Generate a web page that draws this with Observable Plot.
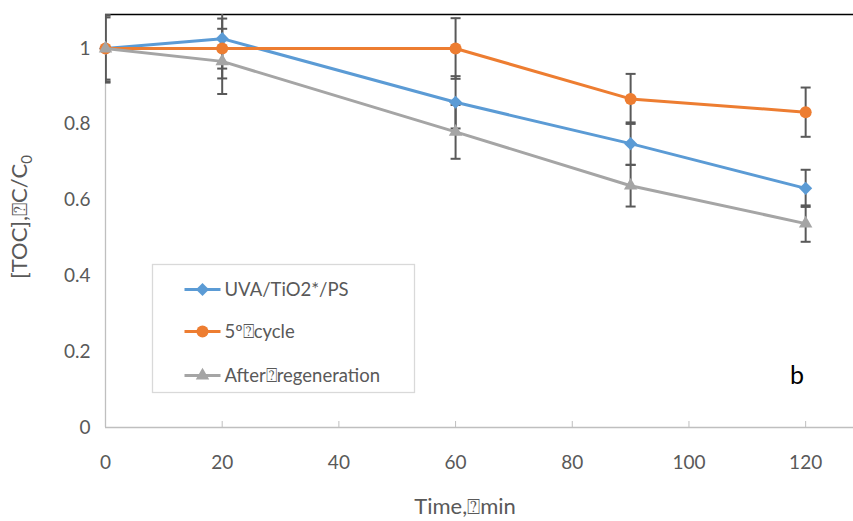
<!DOCTYPE html>
<html>
<head>
<meta charset="utf-8">
<script src="https://cdn.jsdelivr.net/npm/d3@7"></script>
<script src="https://cdn.jsdelivr.net/npm/@observablehq/plot@0.6"></script>
<style>
  body { margin: 0; background: #fff; }
  #chart { width: 853px; height: 521px; }
</style>
</head>
<body>
<div id="chart"></div>
<script>
// Sampling times (min)
const times = [0, 20, 60, 90, 120];

// Series names as shown in the legend
const seriesNames = ["UVA/TiO2*/PS", "5º\u2370cycle", "After\u2370regeneration"];

// Normalised TOC, [TOC]/C0, per series
const uvaTiO2 = [1.0, 1.026, 0.858, 0.749, 0.631];
const cycle5 = [1.0, 1.0, 1.0, 0.867, 0.832];
const regenerated = [1.0, 0.966, 0.780, 0.638, 0.538];

// Error bar half-widths per series
const uvaTiO2Err = [0.09, 0.079, 0.069, 0.056, 0.049];
const cycle5Err = [0.082, 0.079, 0.08, 0.066, 0.065];
const regeneratedErr = [0.087, 0.086, 0.071, 0.055, 0.048];

// Axis ticks
const xTicks = [0, 20, 40, 60, 80, 100, 120];
const yTicks = [0, 0.2, 0.4, 0.6, 0.8, 1];

const colors = ["#5B9BD5", "#ED7D31", "#A5A5A5"];
const symbols = ["diamond2", "circle", "triangle"];
const symbolR = [5.9, 6, 5];

const values = [uvaTiO2, cycle5, regenerated];
const errors = [uvaTiO2Err, cycle5Err, regeneratedErr];

const rows = seriesNames.flatMap((s, i) =>
  times.map((t, j) => ({ series: s, idx: i, t, v: values[i][j], e: errors[i][j] }))
);

const font = "Lato, 'Open Sans', sans-serif";
const axisGrey = "#595959";

// horizontal cap for the error bars
const capSymbol = {
  draw(context, size) {
    const r = Math.sqrt(size / Math.PI);
    context.moveTo(-r, 0);
    context.lineTo(r, 0);
  }
};

const yTop = 1.0897;

const chart = Plot.plot({
  width: 853,
  height: 521,
  marginLeft: 105,
  marginRight: 0,
  marginTop: 14,
  marginBottom: 94,
  style: { fontFamily: font, fontSize: "19px", color: axisGrey, background: "#fff" },
  x: { domain: [0, 128.2] },
  y: { domain: [0, yTop] },
  marks: [
    Plot.axisX({ ticks: xTicks, tickSize: 0, tickPadding: 28, label: null, fill: axisGrey }),
    Plot.axisY({ ticks: yTicks, tickSize: 0, tickPadding: 15, label: null, fill: axisGrey,
      tickFormat: d => String(d) }),
    Plot.axisX({ ticks: xTicks, tickSize: -6, tickFormat: () => "", label: null, stroke: "#bfbfbf" }),
    Plot.ruleY([0], { stroke: "#bfbfbf", strokeWidth: 1.3 }),
    Plot.ruleX([0], { stroke: "#bfbfbf", strokeWidth: 1.3 }),
    Plot.ruleY([yTop], { stroke: "#000", strokeWidth: 1.5 }),
    // error bars
    Plot.ruleX(rows, { x: "t", y1: d => d.v - d.e, y2: d => d.v + d.e, stroke: axisGrey, strokeWidth: 2, clip: true }),
    Plot.dot(rows, { x: "t", y: d => d.v + d.e, symbol: () => capSymbol, r: 5, stroke: axisGrey, strokeWidth: 2, fill: "none", clip: true }),
    Plot.dot(rows, { x: "t", y: d => d.v - d.e, symbol: () => capSymbol, r: 5, stroke: axisGrey, strokeWidth: 2, fill: "none", clip: true }),
    // series lines and markers, drawn in legend order
    ...seriesNames.flatMap((s, i) => [
      Plot.line(rows.filter(d => d.idx === i), { x: "t", y: "v", stroke: colors[i], strokeWidth: 3 }),
      Plot.dot(rows.filter(d => d.idx === i), { x: "t", y: "v", fill: colors[i], stroke: "none", symbol: () => symbols[i], r: symbolR[i] })
    ])
  ]
});

const svg = d3.select(chart);

// axis titles
svg.append("text")
  .attr("x", 465).attr("y", 514)
  .attr("text-anchor", "middle")
  .attr("font-family", font).attr("font-size", 22).attr("fill", axisGrey)
  .text("Time,\u2370min");

const yTitle = svg.append("text")
  .attr("transform", "translate(27,217) rotate(-90)")
  .attr("text-anchor", "middle")
  .attr("font-family", font).attr("font-size", 22).attr("fill", axisGrey);
yTitle.append("tspan").text("[TOC],\u2370C/C");
yTitle.append("tspan").attr("font-size", 15).attr("dy", 5).text("0");

// panel letter
svg.append("text")
  .attr("x", 797).attr("y", 384)
  .attr("text-anchor", "middle")
  .attr("font-family", font).attr("font-size", 25).attr("fill", "#000")
  .text("b");

// legend box
const lg = svg.append("g").attr("transform", "translate(152.5,264.5)");
lg.append("rect").attr("width", 262).attr("height", 128)
  .attr("fill", "#fff").attr("stroke", "#d9d9d9").attr("stroke-width", 1.3);
const symbolTypes = [d3.symbolDiamond2, d3.symbolCircle, d3.symbolTriangle];
seriesNames.forEach((s, i) => {
  const row = lg.append("g").attr("transform", `translate(0,${[25, 67, 111][i]})`);
  row.append("line").attr("x1", 32).attr("x2", 68).attr("stroke", colors[i]).attr("stroke-width", 3);
  row.append("path")
    .attr("transform", "translate(50,0)")
    .attr("d", d3.symbol(symbolTypes[i], Math.PI * symbolR[i] * symbolR[i])())
    .attr("fill", colors[i]);
  row.append("text").attr("x", 72).attr("dy", "0.35em")
    .attr("text-anchor", "start")
    .attr("font-family", font).attr("font-size", 18.5).attr("fill", axisGrey)
    .text(s);
});

document.getElementById("chart").appendChild(chart);
</script>
</body>
</html>
